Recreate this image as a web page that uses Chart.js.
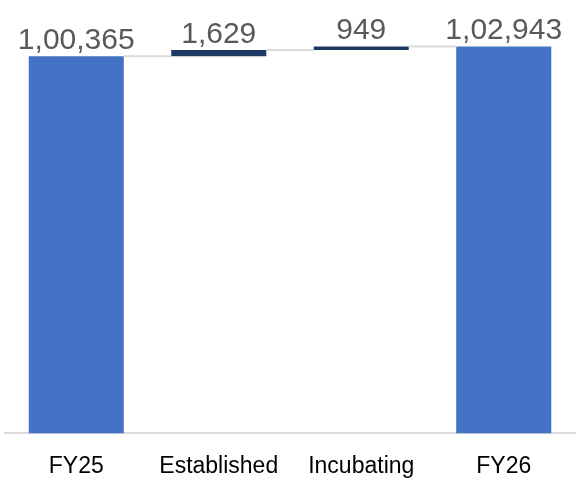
<!DOCTYPE html>
<html>
<head>
<meta charset="utf-8">
<script src="https://cdn.jsdelivr.net/npm/chart.js@4"></script>
<style>
    html, body { margin: 0; padding: 0; background: #ffffff; }
    #wrap { width: 577px; height: 483px; }
</style>
</head>
<body>
<div id="wrap"><canvas id="waterfall"></canvas></div>
<script>
const categories = ["FY25", "Established", "Incubating", "FY26"];
const values = [100365, 1629, 949, 102943];
const kinds = ["total", "delta", "delta", "total"];
const valueLabels = ["1,00,365", "1,629", "949", "1,02,943"];

// build floating ranges for the waterfall
let running = 0;
const ranges = values.map((v, i) => {
    if (kinds[i] === "total") {
        running = v;
        return [0, v];
    }
    const start = running;
    running += v;
    return [start, running];
});

const barColors = kinds.map(k => k === "total" ? "#4472c4" : "#203864");

// connector lines + value labels
const waterfallExtras = {
    id: "waterfallExtras",
    afterDatasetsDraw(chart) {
        const ctx = chart.ctx;
        const meta = chart.getDatasetMeta(0);
        const y = chart.scales.y;
        ctx.save();
        ctx.strokeStyle = "#d9d9d9";
        ctx.lineWidth = 2;
        for (let i = 0; i < meta.data.length - 1; i++) {
            const a = meta.data[i];
            const b = meta.data[i + 1];
            const level = y.getPixelForValue(ranges[i][1]);
            ctx.beginPath();
            ctx.moveTo(a.x + a.width / 2, level);
            ctx.lineTo(b.x - b.width / 2, level);
            ctx.stroke();
        }
        ctx.fillStyle = "#595959";
        ctx.font = "30px 'Liberation Sans', Arial, sans-serif";
        ctx.textAlign = "center";
        ctx.textBaseline = "alphabetic";
        meta.data.forEach((bar, i) => {
            const top = y.getPixelForValue(ranges[i][1]);
            ctx.fillText(valueLabels[i], bar.x, top - 7);
        });
        ctx.restore();
    }
};

new Chart(document.getElementById("waterfall"), {
    type: "bar",
    data: {
        labels: categories,
        datasets: [{
            data: ranges,
            backgroundColor: barColors,
            borderWidth: 0,
            barPercentage: 0.667,
            categoryPercentage: 1
        }]
    },
    options: {
        responsive: true,
        maintainAspectRatio: false,
        animation: false,
        layout: {
            padding: { left: 5, right: 2, top: 0, bottom: -16 }
        },
        plugins: {
            legend: { display: false },
            tooltip: { enabled: false }
        },
        scales: {
            x: {
                grid: { display: false, drawTicks: false },
                border: { display: true, color: "#d9d9d9", width: 2 },
                ticks: {
                    color: "#000000",
                    padding: 19,
                    font: { family: "'Liberation Sans', Arial, sans-serif", size: 23 }
                }
            },
            y: {
                display: false,
                min: 0,
                max: 115300
            }
        }
    },
    plugins: [waterfallExtras]
});
</script>
</body>
</html>
